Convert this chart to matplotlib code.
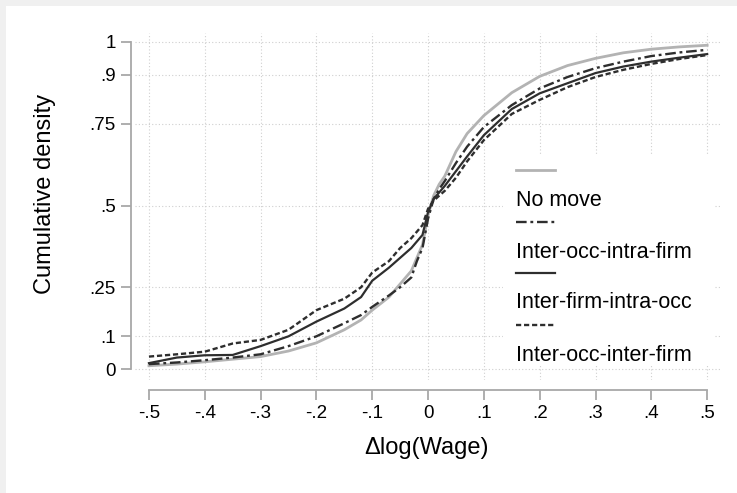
import matplotlib
matplotlib.use("Agg")
from matplotlib import pyplot as plt
from matplotlib.patches import Rectangle

plt.rcParams['font.family'] = ['Liberation Sans', 'DejaVu Sans']

# Wage change grid and cumulative densities
dw = [-0.5, -0.45, -0.4, -0.35, -0.3, -0.25, -0.2, -0.15, -0.12, -0.1, -0.07, -0.05,
      -0.03, -0.02, -0.01, 0.0, 0.01, 0.02, 0.03, 0.05, 0.07, 0.1, 0.15, 0.2,
      0.25, 0.3, 0.35, 0.4, 0.45, 0.5]

no_move = [0.01, 0.015, 0.022, 0.03, 0.038, 0.055, 0.08, 0.12, 0.15, 0.18, 0.22, 0.26,
           0.30, 0.34, 0.38, 0.47, 0.53, 0.565, 0.59, 0.665, 0.72, 0.775, 0.845, 0.895,
           0.928, 0.95, 0.967, 0.978, 0.985, 0.99]
occ_intra_firm = [0.015, 0.02, 0.027, 0.035, 0.045, 0.07, 0.10, 0.14, 0.165, 0.19, 0.225, 0.25,
                  0.28, 0.33, 0.37, 0.46, 0.52, 0.55, 0.575, 0.63, 0.68, 0.74, 0.807, 0.858,
                  0.893, 0.92, 0.94, 0.957, 0.968, 0.976]
firm_intra_occ = [0.018, 0.035, 0.042, 0.043, 0.07, 0.10, 0.145, 0.185, 0.22, 0.27, 0.31, 0.34,
                  0.37, 0.39, 0.41, 0.48, 0.52, 0.54, 0.56, 0.605, 0.65, 0.715, 0.795, 0.843,
                  0.874, 0.905, 0.925, 0.94, 0.952, 0.963]
occ_inter_firm = [0.038, 0.045, 0.053, 0.078, 0.089, 0.12, 0.18, 0.215, 0.25, 0.295, 0.33, 0.37,
                  0.40, 0.42, 0.44, 0.49, 0.515, 0.53, 0.545, 0.585, 0.635, 0.70, 0.78, 0.823,
                  0.862, 0.893, 0.915, 0.933, 0.948, 0.96]

labels = ['No move', 'Inter-occ-intra-firm', 'Inter-firm-intra-occ', 'Inter-occ-inter-firm']
xticks = [-0.5, -0.4, -0.3, -0.2, -0.1, 0, 0.1, 0.2, 0.3, 0.4, 0.5]
xticklabels = ['-.5', '-.4', '-.3', '-.2', '-.1', '0', '.1', '.2', '.3', '.4', '.5']
yticks = [0, 0.1, 0.25, 0.5, 0.75, 0.9, 1]
yticklabels = ['0', '.1', '.25', '.5', '.75', '.9', '1']

fig = plt.figure(figsize=(7.37, 4.93), dpi=100, facecolor='#f0f0f0')
fig.patches.append(Rectangle((6 / 737, 0), 1, 1 - 6 / 493, transform=fig.transFigure,
                             facecolor='white', edgecolor='none', zorder=-10))
ax = fig.add_axes([135 / 737, 1 - 380 / 493, 585 / 737, 347 / 493])
ax.set_facecolor('white')

styles = [dict(color='#b3b3b3', lw=2.0, ls='-'),
          dict(color='#2e2e2e', lw=1.7, ls=(0, (4.5, 1.6, 1.2, 1.6))),
          dict(color='#2e2e2e', lw=1.6, ls='-'),
          dict(color='#2e2e2e', lw=1.7, ls=(0, (2.2, 1.2)))]
series = [no_move, occ_intra_firm, firm_intra_occ, occ_inter_firm]
for ys, st in zip(series, styles):
    ax.plot(dw, ys, zorder=3, **st)

ax.set_xlim(-0.525, 0.523)
ax.set_ylim(-0.0336, 1.0275)
ax.set_xticks(xticks)
ax.set_xticklabels(xticklabels)
ax.set_yticks(yticks)
ax.set_yticklabels(yticklabels)
ax.grid(True, color='#cfcfcf', ls=(0, (1, 2)), lw=0.8)
ax.set_axisbelow(True)

for s in ['top', 'right']:
    ax.spines[s].set_visible(False)
ax.spines['left'].set_position(('outward', 3))
ax.spines['bottom'].set_position(('outward', 7))
ax.spines['left'].set_bounds(0, 1)
ax.spines['bottom'].set_bounds(-0.5, 0.5)
for s in ['left', 'bottom']:
    ax.spines[s].set_color('#a8a8a8')
    ax.spines[s].set_linewidth(1.3)
ax.tick_params(colors='#a8a8a8', labelcolor='black', labelsize=13.5, length=7, width=1.3)
ax.tick_params(axis='y', pad=4)
ax.tick_params(axis='x', pad=4)
ax.set_xlabel('\u0394log(Wage)', fontsize=17)
ax.set_ylabel('Cumulative density', fontsize=17)
ax.xaxis.set_label_coords(0.499, -0.165)
ax.yaxis.set_label_coords(-0.135, 0.535)

# legend: key above label, Stata style
ax.add_patch(Rectangle((0.629, 0.045), 0.362, 0.6, transform=ax.transAxes,
                       facecolor='white', edgecolor='none', zorder=2))
key_y = [0.605, 0.455, 0.308, 0.158]
txt_y = [0.516, 0.366, 0.222, 0.072]
for st, lab, ky, ty in zip(styles, labels, key_y, txt_y):
    ax.plot([0.651, 0.718], [ky, ky], transform=ax.transAxes, zorder=4, **st)
    ax.text(0.651, ty, lab, transform=ax.transAxes, fontsize=15.5, va='center', ha='left', zorder=4)

fig.savefig('out.png', dpi=100, facecolor=fig.get_facecolor())
